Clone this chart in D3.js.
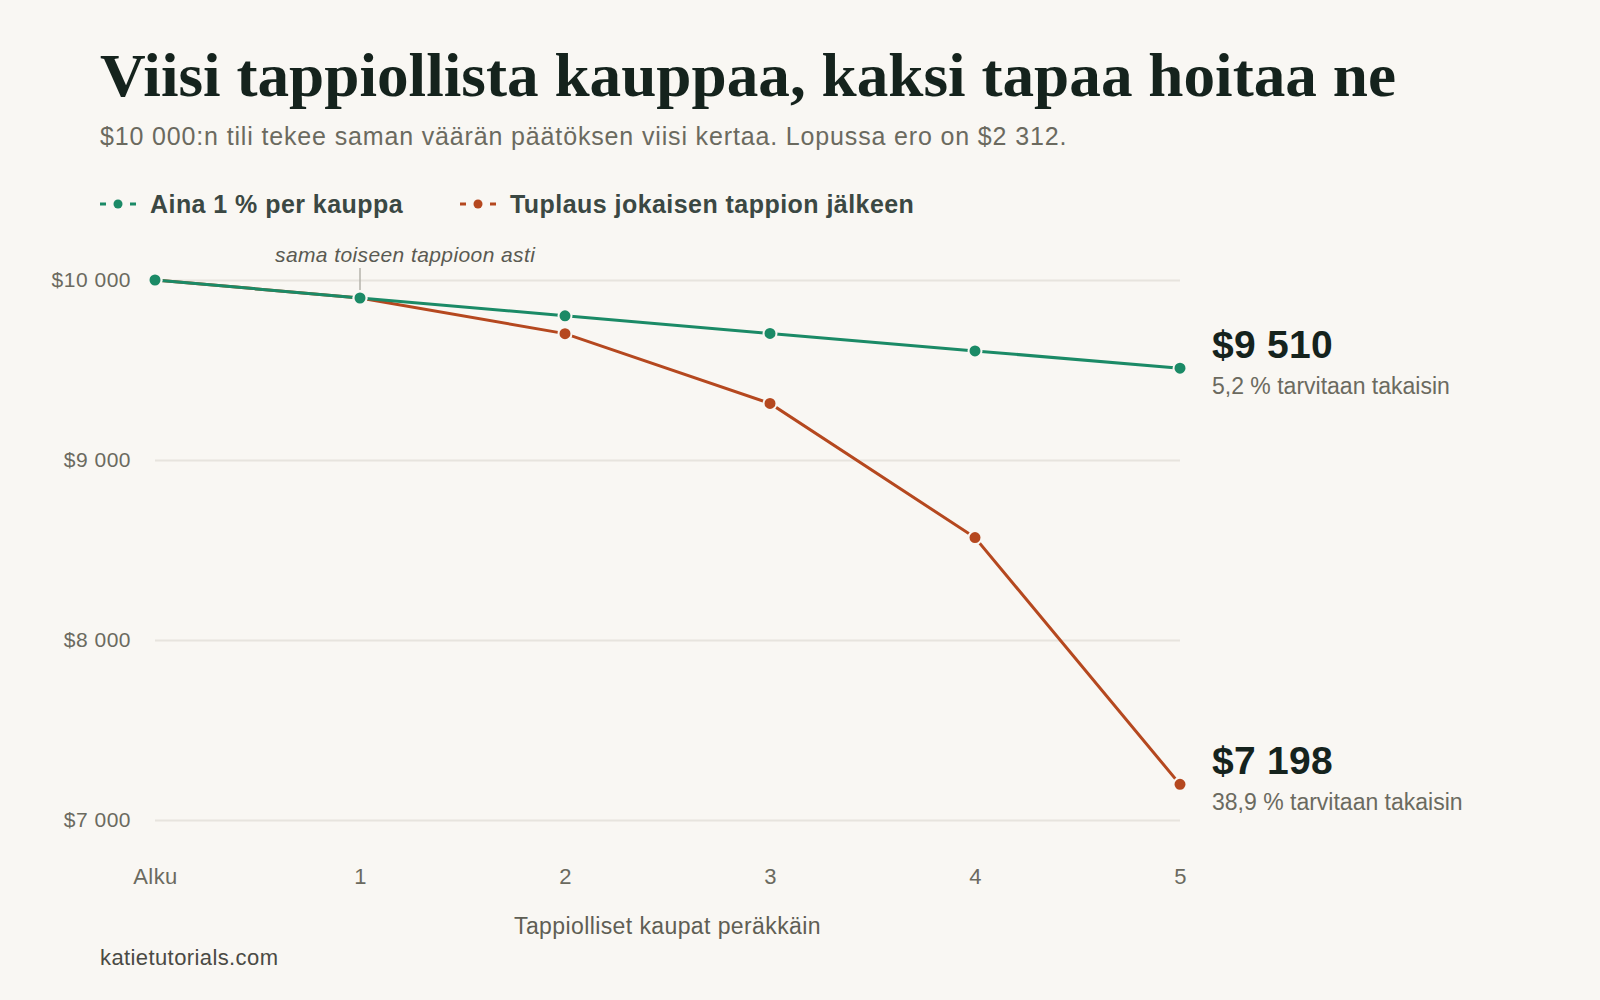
<!DOCTYPE html>
<html>
<head>
<meta charset="utf-8">
<script src="https://cdn.jsdelivr.net/npm/d3@7"></script>
<style>
    html, body {margin: 0; padding: 0; background: #f9f7f3;}
    svg {display: block; font-family: "Liberation Sans", Arial, sans-serif;}
    .axis .domain {display: none;}
    .axis--y .tick line {stroke: #e7e4de; stroke-width: 2;}
    .axis--y .tick text {fill: #6b6a5f; font-size: 21px; letter-spacing: 0.5px;}
    .axis--x .tick line {display: none;}
    .axis--x .tick text {fill: #6b6a5f; font-size: 22px; letter-spacing: 0.4px;}
</style>
</head>
<body>
<div id="chart"></div>
<script>
// data
var steps = [0, 1, 2, 3, 4, 5];
var stepLabels = ["Alku", "1", "2", "3", "4", "5"];
var constantValues = [10000, 9900, 9801, 9703, 9606, 9510];
var doublingValues = [10000, 9900, 9702, 9314, 8569, 7198];
var yTickValues = [7000, 8000, 9000, 10000];
var seriesNames = ["Aina 1 % per kauppa", "Tuplaus jokaisen tappion jälkeen"];
var endLabels = ["$9 510", "$7 198"];
var endNotes = ["5,2 % tarvitaan takaisin", "38,9 % tarvitaan takaisin"];

var W = 1600, H = 1000
    , colors = ["#1b8a66", "#b5481f"]
    , margin = {top: 280, right: 420, bottom: 180, left: 155}
    , width = W - margin.left - margin.right
    , height = H - margin.top - margin.bottom
    ;

var yFormat = (function() {
    var base = d3.format(",.0f");
    return function(v) {return "$" + base(v).replace(/,/g, " ")}
})();

var svg = d3.select("#chart")
    .append("svg")
    .attr("width", W)
    .attr("height", H);

svg.append("rect")
    .attr("width", W)
    .attr("height", H)
    .attr("fill", "#f9f7f3");

// title, subtitle
svg.append("text")
    .attr("x", 100)
    .attr("y", 96)
    .attr("textLength", 1296)
    .attr("lengthAdjust", "spacingAndGlyphs")
    .style("font-family", "'Liberation Serif', 'DejaVu Serif', serif")
    .style("font-weight", "bold")
    .style("font-size", "62px")
    .attr("fill", "#15231d")
    .text("Viisi tappiollista kauppaa, kaksi tapaa hoitaa ne");

svg.append("text")
    .attr("x", 100)
    .attr("y", 145)
    .style("font-size", "25px")
    .style("letter-spacing", "0.85px")
    .attr("fill", "#6b6a5f")
    .text("$10 000:n tili tekee saman väärän päätöksen viisi kertaa. Lopussa ero on $2 312.");

// legend
var legendX = [100, 460];
var legend = svg.append("g")
    .attr("class", "legend")
    .selectAll("g")
    .data(seriesNames)
    .enter()
    .append("g")
    .attr("transform", (d, i) => "translate(" + legendX[i] + ",204)");

legend.append("line")
    .attr("x1", 0).attr("x2", 36)
    .attr("stroke", (d, i) => colors[i])
    .attr("stroke-width", 3)
    .attr("stroke-dasharray", "6 24");

legend.append("circle")
    .attr("cx", 18)
    .attr("r", 4.5)
    .attr("fill", (d, i) => colors[i]);

legend.append("text")
    .attr("x", 50)
    .attr("y", 9)
    .style("font-size", "25px")
    .style("letter-spacing", "0.45px")
    .style("font-weight", "bold")
    .attr("fill", "#3b4843")
    .text(d => d);

var g = svg.append("g")
    .attr("transform", "translate(" + margin.left + "," + margin.top + ")");

var x = d3.scaleLinear()
    .domain([0, 5])
    .range([0, width]);

var y = d3.scaleLinear()
    .domain([7000, 10000])
    .range([height, 0]);

var yAxis = d3.axisLeft(y)
    .tickValues(yTickValues)
    .tickSizeOuter(0)
    .tickSizeInner(-width)
    .tickPadding(24)
    .tickFormat(yFormat);

var xAxis = d3.axisBottom(x)
    .tickValues(steps)
    .tickSize(0)
    .tickPadding(48)
    .tickFormat((d, i) => stepLabels[i]);

g.append("g")
    .attr("class", "axis axis--y")
    .call(yAxis);

g.append("g")
    .attr("class", "axis axis--x")
    .attr("transform", "translate(0," + height + ")")
    .call(xAxis);

g.append("text")
    .attr("x", width / 2)
    .attr("y", height + 114)
    .attr("text-anchor", "middle")
    .style("font-size", "23px")
    .style("letter-spacing", "0.4px")
    .attr("fill", "#5f5e54")
    .text("Tappiolliset kaupat peräkkäin");

// annotation
g.append("line")
    .attr("x1", x(1)).attr("x2", x(1))
    .attr("y1", y(10000) - 12)
    .attr("y2", y(9900) - 8)
    .attr("stroke", "#b5b3ab")
    .attr("stroke-width", 1.5);

g.append("text")
    .attr("x", x(1) - 85)
    .attr("y", y(10000) - 18)
    .style("font-size", "21px")
    .style("letter-spacing", "0.4px")
    .style("font-style", "italic")
    .attr("fill", "#5a5a52")
    .text("sama toiseen tappioon asti");

var line_gen = d3.line()
    .x((d, i) => x(steps[i]))
    .y(d => y(d))
    .curve(d3.curveLinear);

var series = [doublingValues, constantValues];
var seriesColors = [colors[1], colors[0]];

series.forEach(function(values, k) {
    g.append("path")
        .attr("d", line_gen(values))
        .attr("fill", "none")
        .attr("stroke", seriesColors[k])
        .attr("stroke-width", 3);
});

series.forEach(function(values, k) {
    g.append("g")
        .selectAll("circle")
        .data(values)
        .enter()
        .append("circle")
        .attr("cx", (d, i) => x(steps[i]))
        .attr("cy", d => y(d))
        .attr("r", 6.5)
        .attr("fill", seriesColors[k])
        .attr("stroke", "#f9f7f3")
        .attr("stroke-width", 2);
});

// end labels
var lastValues = [constantValues[5], doublingValues[5]];
lastValues.forEach(function(v, i) {
    g.append("text")
        .attr("x", width + 32)
        .attr("y", y(v) - 10)
        .style("font-size", "39px")
        .style("letter-spacing", "0.3px")
        .style("font-weight", "bold")
        .attr("fill", "#15231d")
        .text(endLabels[i]);
    g.append("text")
        .attr("x", width + 32)
        .attr("y", y(v) + 26)
        .style("font-size", "23px")
        .attr("fill", "#6b6a5f")
        .text(endNotes[i]);
});

svg.append("text")
    .attr("x", 100)
    .attr("y", 965)
    .style("font-size", "22px")
    .style("letter-spacing", "0.4px")
    .attr("fill", "#4a4a44")
    .text("katietutorials.com");
</script>
</body>
</html>
